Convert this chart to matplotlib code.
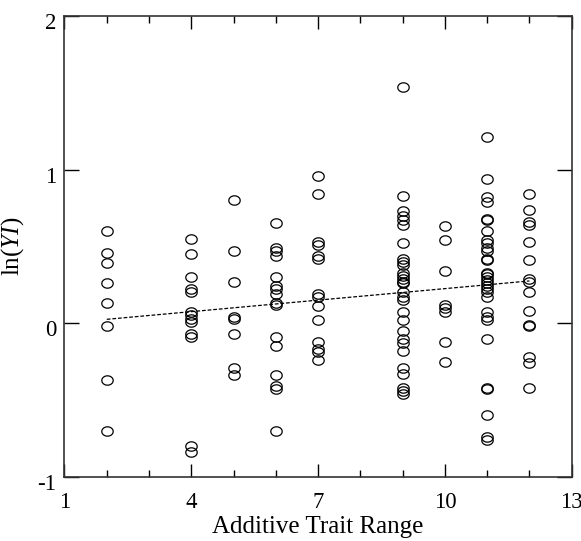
import numpy as np
import matplotlib
matplotlib.use("Agg")
import matplotlib.pyplot as plt
import matplotlib.transforms as mtransforms
from matplotlib.path import Path
from matplotlib.ticker import MultipleLocator

plt.rcParams['font.family'] = ['Liberation Serif', 'DejaVu Serif']
plt.rcParams['mathtext.fontset'] = 'custom'
plt.rcParams['mathtext.rm'] = 'Liberation Serif'
plt.rcParams['mathtext.it'] = 'Liberation Serif:italic'
plt.rcParams['axes.unicode_minus'] = False

# ln(YI) values per additive trait range
y_x2 = [0.60, 0.46, 0.39, 0.26, 0.13, -0.02, -0.37, -0.70]
y_x4 = [0.55, 0.45, 0.30, 0.22, 0.20, 0.07, 0.05, 0.03, 0.01, -0.07, -0.09, -0.80, -0.84]
y_x5 = [0.80, 0.47, 0.27, 0.04, 0.03, -0.07, -0.29, -0.34]
y_x6 = [0.65, 0.49, 0.47, 0.44, 0.30, 0.24, 0.22, 0.19, 0.13, 0.12,
        -0.09, -0.15, -0.34, -0.41, -0.43, -0.70]
y_x7 = [0.96, 0.84, 0.53, 0.51, 0.44, 0.42, 0.19, 0.17, 0.11, 0.02,
        -0.12, -0.17, -0.19, -0.24]
y_x9 = [1.54, 0.83, 0.73, 0.70, 0.67, 0.64, 0.52, 0.42, 0.40, 0.38, 0.33, 0.31,
        0.29, 0.27, 0.26, 0.20, 0.17, 0.15, 0.07, 0.02, -0.05, -0.10, -0.13,
        -0.18, -0.29, -0.33, -0.42, -0.44, -0.46]
y_x10 = [0.63, 0.54, 0.34, 0.12, 0.10, 0.07, -0.12, -0.25]
y_x11 = [1.21, 0.94, 0.82, 0.79, 0.68, 0.67, 0.60, 0.54, 0.52, 0.49, 0.47, 0.42,
         0.41, 0.33, 0.32, 0.30, 0.28, 0.26, 0.24, 0.22, 0.20, 0.17, 0.07, 0.04,
         0.02, -0.10, -0.42, -0.43, -0.60, -0.74, -0.76]
y_x12 = [0.84, 0.74, 0.66, 0.64, 0.53, 0.41, 0.29, 0.27, 0.20, 0.08, -0.01,
         -0.02, -0.22, -0.26, -0.42]

groups = {2: y_x2, 4: y_x4, 5: y_x5, 6: y_x6, 7: y_x7,
          9: y_x9, 10: y_x10, 11: y_x11, 12: y_x12}

# regression line end points
fit_x = [2, 12]
fit_y = [0.025, 0.275]

# slightly flattened open circle marker
t = np.linspace(0, 2 * np.pi, 64)
ellipse = Path(np.column_stack([np.cos(t), 0.82 * np.sin(t)]))

fig = plt.figure(figsize=(5.81, 5.41), dpi=100)
ax = fig.add_axes([0.111, 0.119, 0.873, 0.851])

for xv, ys in groups.items():
    ax.plot([xv] * len(ys), ys, linestyle='none', marker=ellipse,
            markersize=8.2, markerfacecolor='none', markeredgecolor='black',
            markeredgewidth=0.9)

ax.plot(fit_x, fit_y, color='black', linestyle=(0, (3, 1.5)), linewidth=0.9)

ax.set_xlim(1, 13)
ax.set_ylim(-1, 2)
ax.set_xticks([1, 4, 7, 10, 13])
ax.xaxis.set_minor_locator(MultipleLocator(1))
ax.set_yticks([-1, 0, 1, 2])

ax.tick_params(axis='both', which='major', direction='in', top=True, right=True,
               length=9.5, width=1, labelsize=16.5)
ax.tick_params(axis='x', which='major', pad=11)
ax.tick_params(axis='x', which='minor', direction='in', top=True,
               length=5, width=1)
ax.tick_params(axis='y', which='major', length=10.5, pad=6)

# y tick labels sit a little below their ticks in the original
shift = mtransforms.ScaledTranslation(0, -5 / 100, fig.dpi_scale_trans)
for lab in ax.get_yticklabels():
    lab.set_transform(lab.get_transform() + shift)

for s in ax.spines.values():
    s.set_linewidth(1.2)
    s.set_color('#333333')

ax.set_xlabel('Additive Trait Range', fontsize=18, labelpad=2)
ax.set_ylabel(r'ln($\mathit{YI}$)', fontsize=18, labelpad=8)

fig.savefig('out.png', dpi=100)
